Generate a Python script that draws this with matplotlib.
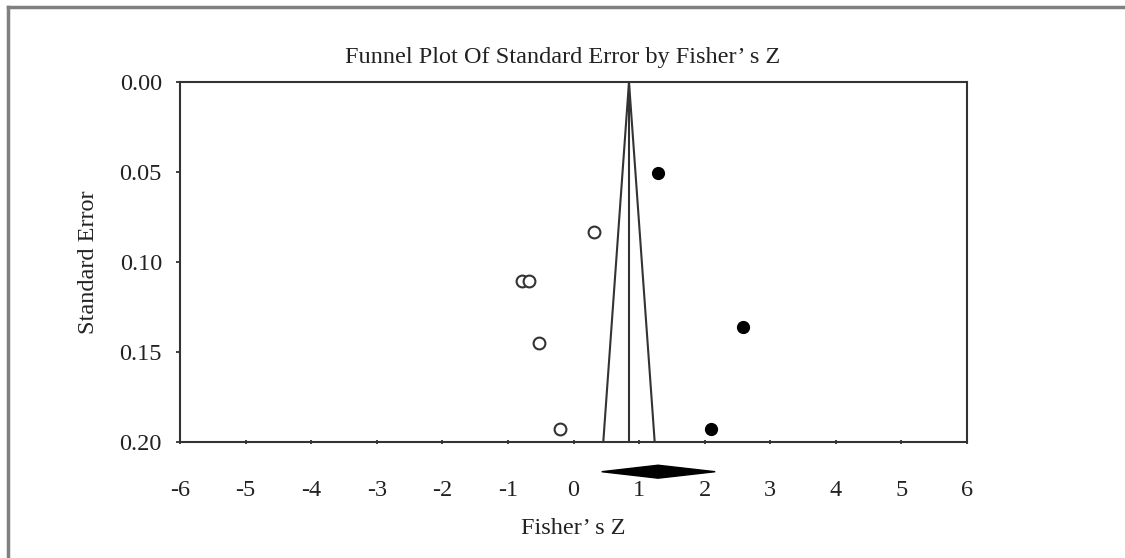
import numpy as np
import matplotlib
matplotlib.use("Agg")
import matplotlib.pyplot as plt
from matplotlib.lines import Line2D

# observed studies (open circles)
obs_z = [0.32, -0.78, -0.68, -0.53, -0.20]
obs_se = [0.0835, 0.1106, 0.1106, 0.145, 0.1926]

# imputed studies (filled circles)
imp_z = [1.29, 2.59, 2.09]
imp_se = [0.0504, 0.136, 0.193]

# funnel centre and summary diamond
funnel_mean = 0.846
diamond_low, diamond_mid, diamond_high = 0.43, 1.29, 2.16

x_ticks = list(range(-6, 7))
y_ticks = [0.00, 0.05, 0.10, 0.15, 0.20]

plt.rcParams['font.family'] = ['Liberation Serif', 'DejaVu Serif']

fig = plt.figure(figsize=(11.25, 5.58), dpi=100)
ax = fig.add_axes([180 / 1125, 1 - 442 / 558, (967 - 180) / 1125, (442 - 82) / 558])

se_max = 0.2
ax.plot([funnel_mean - 1.96 * se_max, funnel_mean, funnel_mean + 1.96 * se_max],
        [se_max, 0, se_max], color='#333333', lw=1.5)
ax.plot([funnel_mean, funnel_mean], [0, se_max], color='#333333', lw=1.5)

ax.plot(obs_z, obs_se, 'o', ms=8.5, mfc='white', mec='#333333', mew=1.5, ls='none')
ax.plot(imp_z, imp_se, 'o', ms=8.5, mfc='black', mec='black', ls='none')

# diamond below the axis
dy = 0.2165
dh = 0.0036
ax.fill([diamond_low, diamond_mid, diamond_high, diamond_mid],
        [dy, dy - dh, dy, dy + dh], color='black', clip_on=False)

ax.set_xlim(-6, 6)
ax.set_ylim(0.2, 0.0)
ax.set_xticks(x_ticks)
ax.set_xticklabels([str(t) for t in x_ticks])
ax.set_yticks(y_ticks)
ax.set_yticklabels(['%.2f' % t for t in y_ticks])

for s in ax.spines.values():
    s.set_color('#333333')
    s.set_linewidth(1.5)

ax.tick_params(axis='x', direction='inout', length=3, width=1.2, pad=26,
               labelsize=17.5, colors='#222222')
ax.tick_params(axis='y', direction='out', length=3, width=1.2, pad=10,
               labelsize=17.5, colors='#222222')

fig.text(563 / 1125, 1 - 57 / 558, 'Funnel Plot Of Standard Error by Fisher\u2019 s Z',
         ha='center', va='center', fontsize=17.5, color='#222222')
fig.text(573 / 1125, 1 - 528 / 558, 'Fisher\u2019 s Z', ha='center', va='center',
         fontsize=17.5, color='#222222')
fig.text(88 / 1125, 1 - 262 / 558, 'Standard Error', ha='center', va='center',
         rotation=90, fontsize=17.5, color='#222222')

# screenshot frame (top and left only)
fig.add_artist(Line2D([8 / 1125, 8 / 1125], [0, 1 - 7 / 558], transform=fig.transFigure,
                      color='#808080', lw=2.5))
fig.add_artist(Line2D([8 / 1125, 1], [1 - 7 / 558, 1 - 7 / 558], transform=fig.transFigure,
                      color='#808080', lw=2.5))

fig.savefig('out.png', dpi=100)
